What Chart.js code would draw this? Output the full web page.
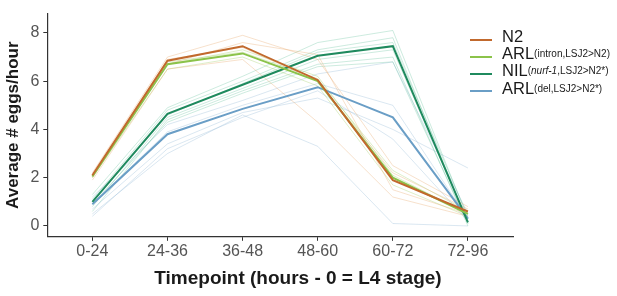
<!DOCTYPE html>
<html>
<head>
  <title>Egg laying timecourse</title>
  <script src="https://cdn.jsdelivr.net/npm/chart.js"></script>
  <style>
    body { margin: 0; background: #fff; }
    #wrap { position: relative; width: 617px; height: 296px; }
    #legend {
        position: absolute; left: 470px; top: 28px;
        font-family: "Liberation Sans", Arial, sans-serif; color: #1a1a1a;
    }
    .item { height: 17.2px; display: flex; align-items: center; font-size: 16.5px; white-space: nowrap; }
    .key { width: 22px; height: 0; border-top: 2px solid; margin-right: 10px; position: relative; top: 3px; }
    .item sub { font-size: 10px; vertical-align: -6px; }
    #xtitle {
        position: absolute; left: 298px; top: 278px; transform: translate(-50%, -50%);
        font: bold 19px "Liberation Sans", Arial, sans-serif; color: #1a1a1a; white-space: nowrap;
    }
  </style>
</head>
<body>
<div id="wrap">
  <canvas id="myChart" width="617" height="296"></canvas>
  <div id="xtitle">Timepoint (hours - 0 = L4 stage)</div>
  <div id="legend">
    <div class="item"><span class="key" style="border-color:#c1692d"></span>N2</div>
    <div class="item"><span class="key" style="border-color:#8bc34a"></span>ARL<sub>(intron,LSJ2&gt;N2)</sub></div>
    <div class="item"><span class="key" style="border-color:#1f8a5e"></span>NIL<sub>(<i>nurf-1</i>,LSJ2&gt;N2*)</sub></div>
    <div class="item"><span class="key" style="border-color:#6a9ec6"></span>ARL<sub>(del,LSJ2&gt;N2*)</sub></div>
  </div>
</div>

<script>
    // timepoints on the x axis
    const timepoints = ['0-24', '24-36', '36-48', '48-60', '60-72', '72-96'];

    // group means
    const n2 = [2.1, 6.85, 7.45, 6.05, 1.9, 0.6];
    const arlIntron = [2.05, 6.7, 7.15, 6.0, 2.0, 0.5];
    const nil = [1.0, 4.65, 5.85, 7.05, 7.45, 0.15];
    const arlDel = [0.9, 3.8, 4.85, 5.75, 4.5, 0.3];

    // individual replicates (faint lines)
    const n2Reps = [
        [2.2, 7.0, 7.9, 6.9, 2.5, 0.8],
        [2.0, 6.7, 7.6, 7.1, 1.5, 0.5],
        [1.9, 6.5, 6.9, 4.3, 1.2, 0.4],
        [2.1, 6.9, 7.4, 6.0, 2.2, 0.7]
    ];
    const arlIntronReps = [
        [2.1, 6.8, 7.2, 6.1, 2.3, 0.6],
        [2.0, 6.5, 7.0, 5.8, 1.7, 0.4],
        [2.05, 6.7, 7.3, 6.2, 2.1, 0.5]
    ];
    const nilReps = [
        [1.3, 4.9, 6.2, 7.6, 8.1, 0.3],
        [1.1, 4.8, 6.0, 7.3, 7.8, 0.1],
        [0.8, 4.5, 5.7, 6.9, 7.3, 0.2],
        [0.6, 4.4, 5.6, 6.7, 7.0, 0.0],
        [1.0, 4.6, 5.9, 7.2, 7.6, 0.4],
        [0.9, 4.3, 5.5, 6.6, 6.8, 0.1]
    ];
    const arlDelReps = [
        [0.5, 3.0, 4.6, 3.3, 0.1, 0.0],
        [0.7, 3.4, 4.7, 5.3, 4.0, 2.4],
        [1.2, 4.2, 5.2, 6.3, 6.8, 0.5],
        [0.9, 3.9, 5.0, 5.9, 5.0, 0.3],
        [0.4, 3.2, 4.5, 5.6, 3.6, 0.2]
    ];

    const yTicks = [0, 2, 4, 6, 8];

    function pts(arr) {
        return arr.map((v, i) => ({ x: i, y: v }));
    }

    const datasets = [];
    function mainLine(arr, color) {
        datasets.push({ data: pts(arr), borderColor: color, borderWidth: 2, order: 0 });
    }
    function repLines(reps, color) {
        reps.forEach(r => datasets.push({ data: pts(r), borderColor: color, borderWidth: 1, order: 1 }));
    }

    repLines(n2Reps, 'rgba(232, 170, 110, 0.35)');
    repLines(arlIntronReps, 'rgba(160, 205, 100, 0.35)');
    repLines(nilReps, 'rgba(90, 190, 150, 0.3)');
    repLines(arlDelReps, 'rgba(150, 185, 215, 0.35)');
    mainLine(n2, '#c1692d');
    mainLine(arlIntron, '#8bc34a');
    mainLine(nil, '#1f8a5e');
    mainLine(arlDel, '#6a9ec6');

    const axisColor = '#333333';
    const font = 'Liberation Sans, Arial, sans-serif';

    const ctx = document.getElementById('myChart').getContext('2d');
    const myChart = new Chart(ctx, {
        type: 'line',
        data: { datasets: datasets },
        options: {
            responsive: false,
            animation: false,
            elements: { point: { radius: 0 }, line: { tension: 0 } },
            layout: { padding: { left: 3, top: 8, right: 104, bottom: 34 } },
            plugins: { legend: { display: false }, tooltip: { enabled: false } },
            scales: {
                x: {
                    type: 'linear',
                    min: -0.6,
                    max: 5.6,
                    afterBuildTicks: axis => { axis.ticks = timepoints.map((t, i) => ({ value: i })); },
                    ticks: {
                        callback: v => timepoints[v],
                        color: '#555555',
                        font: { family: font, size: 16 },
                        padding: 1,
                        maxRotation: 0
                    },
                    grid: { drawOnChartArea: false, color: axisColor, tickLength: 4, lineWidth: 1 },
                    border: { color: axisColor, width: 1.2 }
                },
                y: {
                    min: -0.45,
                    max: 8.8,
                    afterBuildTicks: axis => { axis.ticks = yTicks.map(v => ({ value: v })); },
                    ticks: {
                        color: '#555555',
                        font: { family: font, size: 16 },
                        padding: 4
                    },
                    grid: { drawOnChartArea: false, color: axisColor, tickLength: 4, lineWidth: 1 },
                    border: { color: axisColor, width: 1.2 },
                    title: {
                        display: true,
                        text: 'Average # eggs/hour',
                        color: '#1a1a1a',
                        font: { family: font, size: 17, weight: 'bold' },
                        padding: { top: 0, bottom: 3 }
                    }
                }
            }
        }
    });
</script>
</body>
</html>
